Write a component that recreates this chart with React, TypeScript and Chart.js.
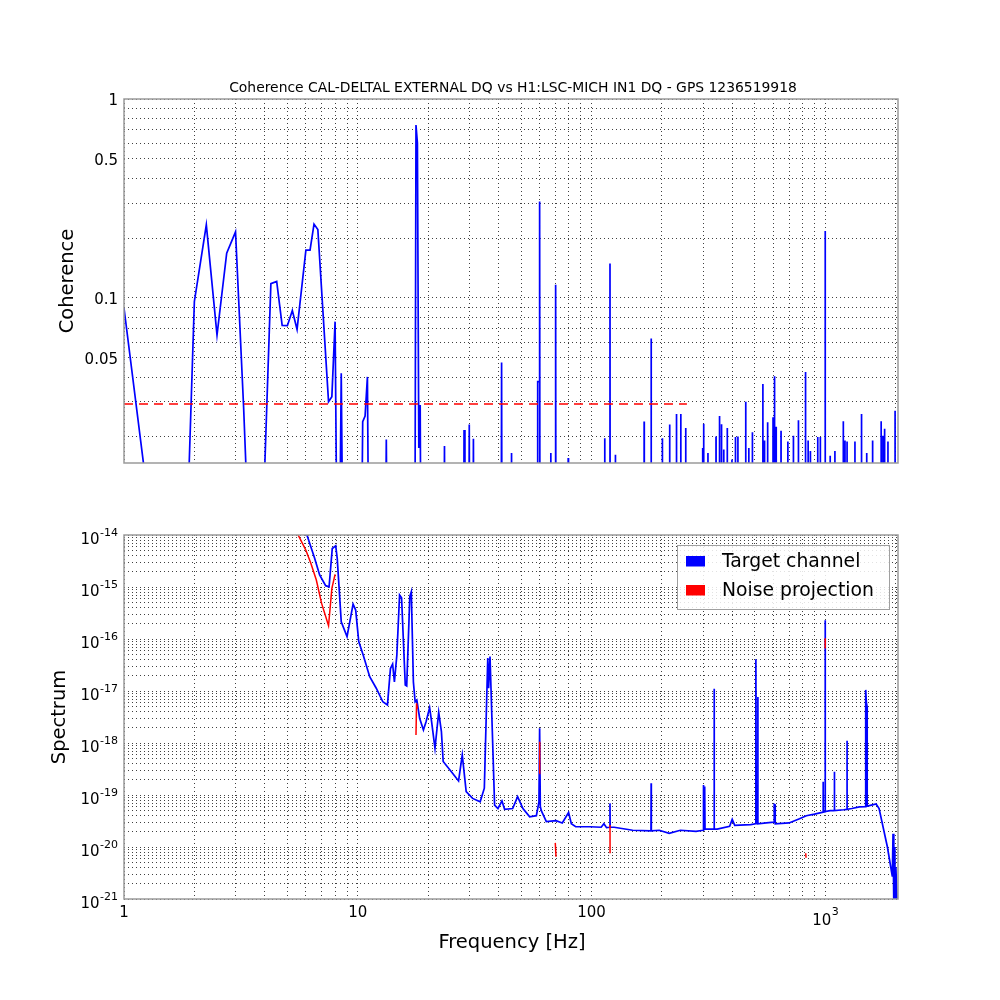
import React, { useEffect, useRef } from 'react';
import { Chart, registerables } from 'chart.js';

Chart.register(...registerables);

const FONT = "'DejaVu Sans', 'Liberation Sans', sans-serif";
const TITLE = 'Coherence CAL-DELTAL EXTERNAL DQ vs H1:LSC-MICH IN1 DQ - GPS 1236519918';

const X_MIN = 1;
const X_MAX = 2048;
const COH_MIN = 0.0148;
const COH_MAX = 1;
const SPEC_MIN = 1e-21;
const SPEC_MAX = 1e-14;

// Tick labels (plain ones drawn by Chart.js, powers of ten drawn with a raised exponent)
const xLabelValues = [1, 10, 100];
const xLabelTexts = ['1', '10', '100'];
const xPowValues = [1000];
const xPowExps = ['3'];
const cohLabelValues = [0.05, 0.1, 0.5, 1];
const cohLabelTexts = ['0.05', '0.1', '0.5', '1'];
const specPowValues = [1e-21, 1e-20, 1e-19, 1e-18, 1e-17, 1e-16, 1e-15, 1e-14];
const specPowExps = ['-21', '-20', '-19', '-18', '-17', '-16', '-15', '-14'];

// Coherence threshold (red dashed)
const cohThreshold = 0.0293;
const thresholdFreq = [1, 256];

// Coherence: continuous low-frequency part
const cohCurveFreq = [
  1.0, 1.25, 1.5, 1.75, 2.0, 2.25, 2.5, 2.75, 3.0, 3.25, 3.5, 3.75, 4.0, 4.25, 4.5, 4.75,
  5.0, 5.25, 5.5, 6.0, 6.25, 6.5, 6.75, 7.5, 7.75, 8.0, 8.25, 8.5, 8.75, 9.0, 10.25, 10.5,
  10.75, 11.0, 11.25, 12.0, 13.0, 13.25, 13.5, 17.5, 17.75, 18.0, 18.25, 18.5, 18.75,
  58.5, 58.75, 59.0, 59.75, 60.0, 60.25,
];
const cohCurveVal = [
  0.089, 0.011, 0.001, 0.0007, 0.096, 0.233, 0.065, 0.168, 0.215, 0.028, 0.003, 0.001, 0.014, 0.118, 0.121, 0.0727,
  0.0725, 0.0865, 0.0695, 0.174, 0.174, 0.235, 0.221, 0.0301, 0.0319, 0.076, 0.001, 0.0418, 0.001, 0.001, 0.001, 0.0239,
  0.0255, 0.0401, 0.001, 0.001, 0.001, 0.0194, 0.001, 0.001, 0.74, 0.6, 0.0176, 0.029, 0.001,
  0.001, 0.016, 0.038, 0.038, 0.305, 0.001,
];

// Coherence: isolated line spikes
const cohSpikeFreq = [
  23.5, 28.5, 30.0, 31.25, 41.25, 45.5, 67.0, 70.25, 79.5, 114, 120, 126.5, 168, 180, 201, 216,
  231, 241, 253, 299, 302, 315, 341, 353, 360, 368, 381, 399, 413, 423, 457, 471, 488, 541, 550,
  567, 598, 607, 617, 647, 692, 731, 768, 822, 825, 845, 864, 929, 953, 1000, 1050, 1100, 1195,
  1215, 1240, 1340, 1430, 1505, 1595, 1735, 1765, 1795, 1855, 1990,
];
const cohSpikePeak = [
  0.018, 0.0217, 0.0231, 0.0196, 0.0473, 0.0166, 0.0166, 0.1165, 0.0157, 0.0197, 0.149, 0.0163, 0.0239, 0.0625, 0.0197, 0.0231,
  0.0261, 0.0261, 0.0222, 0.0176, 0.0233, 0.0166, 0.0201, 0.0255, 0.0232, 0.0173, 0.0222, 0.0154, 0.02, 0.0201, 0.0301, 0.0176, 0.0211, 0.0369, 0.0192,
  0.0237, 0.0251, 0.0404, 0.0225, 0.0215, 0.019, 0.0203, 0.0243, 0.0424, 0.0414, 0.0192, 0.017, 0.02, 0.02, 0.217, 0.0161, 0.017, 0.024,
  0.0192, 0.019, 0.019, 0.0261, 0.0166, 0.0192, 0.024, 0.0203, 0.022, 0.019, 0.0271,
];
const cohFloor = 0.001;
const cohBin = 0.25;

// Target channel spectrum
const specFreq = [
  6.0, 6.54, 6.87, 7.29, 7.54, 7.78, 8.05, 8.17, 8.5, 9.0, 9.55, 9.8, 10.1, 10.55, 11.25, 12.0,
  12.8, 13.4, 13.8, 14.1, 14.35, 14.7, 15.1, 15.4, 15.97, 16.2, 16.7, 16.95, 17.3, 17.6, 17.9, 18.4,
  19.1, 19.6, 20.3, 20.7, 21.4, 22.2, 22.8, 23.2, 25.5, 27.0, 28.0, 29.1, 31.0, 33.4, 34.8, 36.0,
  36.3, 36.8, 38.5, 39.8, 41.4, 42.5, 46.0, 48.3, 50.9, 54.4, 58.1, 59.6, 60.0, 60.4, 61.0, 64.1,
  70.5, 75, 79.8, 82, 85.6, 98.5, 110, 113, 116, 119.8, 120, 120.2, 125, 150, 179.7, 180,
  180.3, 195, 215, 240, 280, 300.5, 301, 302, 304.5, 305, 306, 315, 334.8, 335, 335.2, 345,
  390, 400, 410, 480, 504.8, 505, 507, 514.8, 515, 515.3, 560, 604, 605, 610, 611, 700,
  776, 830, 900, 979.5, 980, 980.5, 999.8, 1000, 1000.3, 1050, 1094.5, 1095, 1095.5, 1200, 1239.5, 1240,
  1240.5, 1300, 1400, 1489, 1490, 1500, 1510, 1512, 1560, 1650, 1700, 1845, 1937, 1950, 1965, 1985,
  1993, 2005, 2040,
];
const specVal = [
  1.15e-14, 3.56e-15, 1.7e-15, 1.06e-15, 1.01e-15, 5.5e-15, 6.2e-15, 3.56e-15, 2.15e-16, 1.11e-16, 4.7e-16, 3.6e-16, 8.9e-17, 4.9e-17, 1.88e-17, 1.13e-17,
  6.2e-18, 5.4e-18, 2.7e-17, 3.3e-17, 1.5e-17, 4.9e-17, 7.0e-16, 6.2e-16, 1.3e-17, 1.25e-17, 6.5e-16, 8.1e-16, 1.5e-17, 6.2e-18, 6.7e-18, 3.0e-18,
  1.78e-18, 2.57e-18, 4.8e-18, 2.57e-18, 7.9e-19, 3.9e-18, 1.65e-18, 4.4e-19, 2.6e-19, 1.86e-19, 5.9e-19, 1.16e-19, 8.6e-20, 7.4e-20, 1.35e-19, 4.3e-17,
  1.13e-17, 4.6e-17, 6.4e-20, 5.5e-20, 7.7e-20, 5.3e-20, 5.5e-20, 9.3e-20, 5.5e-20, 3.8e-20, 4.0e-20, 7.4e-20, 1.92e-18, 6.0e-20, 5.0e-20, 3.07e-20,
  3.2e-20, 2.9e-20, 4.6e-20, 2.8e-20, 2.45e-20, 2.45e-20, 2.4e-20, 2.8e-20, 2.35e-20, 2.4e-20, 6.9e-20, 2.4e-20, 2.4e-20, 2.1e-20, 2.05e-20, 1.68e-19,
  2.05e-20, 2.1e-20, 1.83e-20, 2.1e-20, 2.0e-20, 2.1e-20, 1.56e-19, 2.2e-20, 2.2e-20, 1.45e-19, 2.2e-20, 2.2e-20, 2.2e-20, 1.1e-17, 2.2e-20, 2.2e-20,
  2.5e-20, 3.4e-20, 2.6e-20, 2.7e-20, 2.8e-20, 4.07e-17, 2.8e-20, 2.8e-20, 7.7e-18, 2.8e-20, 2.9e-20, 3.0e-20, 6.6e-20, 6.5e-20, 2.8e-20, 2.9e-20,
  3.5e-20, 4.0e-20, 4.3e-20, 4.7e-20, 1.8e-19, 4.7e-20, 4.8e-20, 2.3e-16, 4.8e-20, 5.0e-20, 5.0e-20, 2.8e-19, 5.0e-20, 5.2e-20, 5.3e-20, 1.1e-18,
  5.3e-20, 5.5e-20, 5.9e-20, 6.0e-20, 1.05e-17, 6.0e-18, 5.0e-18, 6.1e-20, 6.3e-20, 6.7e-20, 5.5e-20, 1.0e-20, 2.7e-21, 1.8e-20, 8e-22, 1.0e-20,
  8e-22, 4.1e-21, 5e-22,
];

// Noise projection (null = gap)
const noiseFreq = [
  5.5, 6.0, 6.3, 6.65, 7.0, 7.5, 7.75, 8.0, 12, 17.75, 17.85, 18.0, 30, 59.95, 60.05, 65,
  70.0, 70.5, 90, 120.0, 120.1, 400, 825, 828, 900, 1000, 1000.2,
];
const noiseVal = [
  1.1e-14, 5.1e-15, 2.86e-15, 1.36e-15, 4.9e-16, 1.8e-16, 9.4e-16, 1.75e-15, null, 1.43e-18, 5.8e-18, 4.6e-18, null, 2.6e-19, 1.06e-18, null,
  1.2e-20, 6.5e-21, null, 2.65e-20, 7.6e-21, null, 7.6e-21, 6.2e-21, null, 1.03e-16, 6.6e-17,
];

const BLUE = '#0000ff';
const RED = '#ff0000';
const GRID_COLOR = 'rgba(0,0,0,0.75)';
const FRAME_COLOR = '#9a9a9a';
const TICK_SIZE = 15;
const EXP_SIZE = 11;

function logGrid(min: number, max: number): number[] {
  const out: number[] = [];
  const e0 = Math.floor(Math.log10(min) + 1e-9);
  const e1 = Math.ceil(Math.log10(max) - 1e-9);
  for (let e = e0; e <= e1; e++) {
    for (let m = 1; m <= 9; m++) {
      const v = parseFloat((m * Math.pow(10, e)).toPrecision(6));
      if (v >= min * (1 - 1e-9) && v <= max * (1 + 1e-9)) out.push(v);
    }
  }
  return out;
}

function labelFor(v: number, vals: number[], texts: string[]): string {
  for (let i = 0; i < vals.length; i++) {
    if (Math.abs(Math.log10(v) - Math.log10(vals[i])) < 1e-6) return texts[i];
  }
  return '';
}

function buildCoherence() {
  const pts: { x: number; y: number }[] = [];
  cohCurveFreq.forEach((f, i) => pts.push({ x: f, y: cohCurveVal[i] }));
  cohSpikeFreq.forEach((f, i) => {
    pts.push({ x: f - cohBin, y: cohFloor });
    pts.push({ x: f, y: cohSpikePeak[i] });
    pts.push({ x: f + cohBin, y: cohFloor });
  });
  pts.sort((a, b) => a.x - b.x);
  return pts;
}

function xScale(showLabels: boolean, height: number) {
  return {
    type: 'logarithmic',
    position: 'bottom',
    min: X_MIN,
    max: X_MAX,
    afterBuildTicks: (s: any) => {
      s.ticks = logGrid(X_MIN, X_MAX).map((v) => ({ value: v }));
    },
    afterFit: (s: any) => {
      s.height = height;
    },
    ticks: {
      display: showLabels,
      autoSkip: false,
      maxRotation: 0,
      minRotation: 0,
      padding: 5,
      color: '#000',
      font: { family: FONT, size: TICK_SIZE },
      callback: (v: any) => labelFor(Number(v), xLabelValues, xLabelTexts),
    },
    grid: { color: GRID_COLOR, lineWidth: 1, drawTicks: false },
    border: { display: false, dash: [1, 3] },
  };
}

function yScale(min: number, max: number, vals: number[], texts: string[], width: number) {
  return {
    type: 'logarithmic',
    position: 'left',
    min,
    max,
    afterBuildTicks: (s: any) => {
      s.ticks = logGrid(min, max).map((v) => ({ value: v }));
    },
    afterFit: (s: any) => {
      s.width = width;
    },
    ticks: {
      autoSkip: false,
      padding: 6,
      labelOffset: 2.5,
      color: '#000',
      font: { family: FONT, size: TICK_SIZE },
      callback: (v: any) => labelFor(Number(v), vals, texts),
    },
    grid: { color: GRID_COLOR, lineWidth: 1, drawTicks: false },
    border: { display: false, dash: [1, 3] },
  };
}

// draws "10" with a raised exponent; anchor 'right' (x = right edge) or 'center'
function drawPow(ctx: any, exp: string, x: number, baseY: number, expY: number, anchor: string) {
  ctx.font = `${TICK_SIZE}px ${FONT}`;
  const wb = ctx.measureText('10').width;
  ctx.font = `${EXP_SIZE}px ${FONT}`;
  const we = ctx.measureText(exp).width;
  const left = anchor === 'right' ? x - wb - we : x - (wb + we) / 2;
  ctx.textAlign = 'left';
  ctx.textBaseline = 'alphabetic';
  ctx.font = `${TICK_SIZE}px ${FONT}`;
  ctx.fillText('10', left, baseY);
  ctx.font = `${EXP_SIZE}px ${FONT}`;
  ctx.fillText(exp, left + wb + 0.5, expY);
}

const framePlugin = {
  id: 'frame',
  afterDatasetsDraw(chart: any) {
    const { ctx, chartArea: a } = chart;
    ctx.save();
    ctx.strokeStyle = FRAME_COLOR;
    ctx.lineWidth = 1.5;
    ctx.strokeRect(a.left, a.top, a.right - a.left, a.bottom - a.top);
    ctx.restore();
  },
};

const topTextPlugin = {
  id: 'topText',
  afterDraw(chart: any) {
    const { ctx, chartArea: a } = chart;
    ctx.save();
    ctx.fillStyle = '#000';
    ctx.textAlign = 'center';
    ctx.textBaseline = 'middle';
    ctx.font = `13.9px ${FONT}`;
    ctx.fillText(TITLE, (a.left + a.right) / 2 + 2, a.top - 11);
    ctx.font = `19.5px ${FONT}`;
    ctx.translate(68, (a.top + a.bottom) / 2);
    ctx.rotate(-Math.PI / 2);
    ctx.fillText('Coherence', 0, 0);
    ctx.restore();
  },
};

const bottomTextPlugin = {
  id: 'bottomText',
  afterDatasetsDraw(chart: any) {
    const { ctx, chartArea: a } = chart;
    // legend
    const lx = a.right - 221;
    const ly = a.top + 10;
    ctx.save();
    ctx.fillStyle = 'rgba(255,255,255,0.85)';
    ctx.fillRect(lx, ly, 212, 64);
    ctx.strokeStyle = '#a0a0a0';
    ctx.lineWidth = 1;
    ctx.strokeRect(lx + 0.5, ly + 0.5, 212, 64);
    ctx.fillStyle = BLUE;
    ctx.fillRect(lx + 9, ly + 11, 19, 10.5);
    ctx.fillStyle = RED;
    ctx.fillRect(lx + 9, ly + 40, 19, 10.5);
    ctx.fillStyle = '#000';
    ctx.textAlign = 'left';
    ctx.textBaseline = 'middle';
    ctx.font = `18.8px ${FONT}`;
    ctx.fillText('Target channel', lx + 45, ly + 17);
    ctx.fillText('Noise projection', lx + 45, ly + 46);
    ctx.restore();
  },
  afterDraw(chart: any) {
    const { ctx, chartArea: a, scales } = chart;
    ctx.save();
    ctx.fillStyle = '#000';
    // y power-of-ten labels
    specPowValues.forEach((v, i) => {
      const py = scales.y.getPixelForValue(v);
      drawPow(ctx, specPowExps[i], a.left - 6.5, py + 9, py + 0.5, 'right');
    });
    // x power-of-ten labels
    xPowValues.forEach((v, i) => {
      const px = scales.x.getPixelForValue(v);
      drawPow(ctx, xPowExps[i], px, a.bottom + 26, a.bottom + 16, 'center');
    });
    ctx.textAlign = 'center';
    ctx.textBaseline = 'middle';
    ctx.font = `19.5px ${FONT}`;
    ctx.fillText('Frequency [Hz]', (a.left + a.right) / 2 + 1, a.bottom + 44);
    ctx.translate(60, (a.top + a.bottom) / 2);
    ctx.rotate(-Math.PI / 2);
    ctx.fillText('Spectrum', 0, 0);
    ctx.restore();
  },
};

export default function App() {
  const topRef = useRef<HTMLCanvasElement>(null);
  const botRef = useRef<HTMLCanvasElement>(null);

  useEffect(() => {
    const common = {
      animation: false,
      responsive: false,
      maintainAspectRatio: false,
      events: [],
      plugins: { legend: { display: false }, tooltip: { enabled: false }, title: { display: false } },
    };

    const top = new Chart(topRef.current as HTMLCanvasElement, {
      type: 'line',
      data: {
        datasets: [
          {
            label: 'threshold',
            data: thresholdFreq.map((f) => ({ x: f, y: cohThreshold })),
            borderColor: RED,
            borderWidth: 1.5,
            borderDash: [9, 6],
            pointRadius: 0,
            tension: 0,
            order: 0,
          },
          {
            label: 'Coherence',
            data: buildCoherence(),
            borderColor: BLUE,
            borderWidth: 1.7,
            pointRadius: 0,
            tension: 0,
            order: 1,
          },
        ],
      },
      options: {
        ...common,
        layout: { padding: { left: 0, right: 102, top: 99, bottom: 0 } },
        scales: {
          x: xScale(false, 37),
          y: yScale(COH_MIN, COH_MAX, cohLabelValues, cohLabelTexts, 124),
        },
      } as any,
      plugins: [framePlugin, topTextPlugin],
    } as any);

    const bottom = new Chart(botRef.current as HTMLCanvasElement, {
      type: 'line',
      data: {
        datasets: [
          {
            label: 'Noise projection',
            data: noiseFreq.map((f, i) => ({ x: f, y: noiseVal[i] })),
            borderColor: RED,
            borderWidth: 1.5,
            pointRadius: 0,
            tension: 0,
            spanGaps: false,
            order: 0,
          },
          {
            label: 'Target channel',
            data: specFreq.map((f, i) => ({ x: f, y: specVal[i] })),
            borderColor: BLUE,
            borderWidth: 1.7,
            pointRadius: 0,
            tension: 0,
            order: 1,
          },
        ],
      },
      options: {
        ...common,
        layout: { padding: { left: 0, right: 102, top: 35, bottom: 0 } },
        scales: {
          x: xScale(true, 101),
          y: yScale(SPEC_MIN, SPEC_MAX, [], [], 124),
        },
      } as any,
      plugins: [framePlugin, bottomTextPlugin],
    } as any);

    return () => {
      top.destroy();
      bottom.destroy();
    };
  }, []);

  return (
    <div style={{ position: 'absolute', left: 0, top: 0, width: 1000, height: 1000, background: '#fff' }}>
      <canvas ref={topRef} width={1000} height={500} style={{ position: 'absolute', left: 0, top: 0 }} />
      <canvas ref={botRef} width={1000} height={500} style={{ position: 'absolute', left: 0, top: 500 }} />
    </div>
  );
}
